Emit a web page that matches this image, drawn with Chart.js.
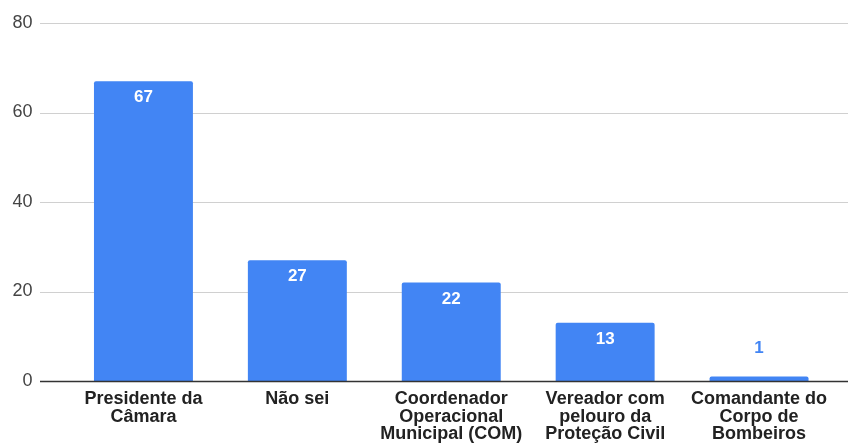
<!DOCTYPE html>
<html>
<head>
<meta charset="utf-8">
<script src="https://cdn.jsdelivr.net/npm/chart.js@4/dist/chart.umd.min.js"></script>
<style>
html,body{margin:0;padding:0;background:#fff;}
#wrap{width:848px;height:444px;position:relative;}
</style>
</head>
<body>
<div id="wrap"><canvas id="c" width="848" height="444"></canvas></div>
<script>
const categories = [
  ["Presidente da", "Câmara"],
  ["Não sei"],
  ["Coordenador", "Operacional", "Municipal (COM)"],
  ["Vereador com", "pelouro da", "Proteção Civil"],
  ["Comandante do", "Corpo de", "Bombeiros"]
];
const values = [67, 27, 22, 13, 1];
const yTicks = [0, 20, 40, 60, 80];

const BLUE = '#4285F4';
const FONT = "'Liberation Sans', Arial, sans-serif";

const gridPlugin = {
  id: 'extGrid',
  beforeDatasetsDraw(chart) {
    const ctx = chart.ctx, y = chart.scales.y;
    ctx.save();
    y.ticks.forEach(t => {
      if (t.value === 0) return;
      const py = Math.round(y.getPixelForValue(t.value)) + 0.5;
      ctx.strokeStyle = '#d0d0d0';
      ctx.lineWidth = 1;
      ctx.beginPath();
      ctx.moveTo(40, py);
      ctx.lineTo(chart.width, py);
      ctx.stroke();
    });
    ctx.restore();
  },
  afterDatasetsDraw(chart) {
    const ctx = chart.ctx, y = chart.scales.y;
    ctx.save();
    const py = y.getPixelForValue(0);
    ctx.strokeStyle = '#333333';
    ctx.lineWidth = 1.5;
    ctx.beginPath();
    ctx.moveTo(40, py + 0.5);
    ctx.lineTo(chart.width, py + 0.5);
    ctx.stroke();
    const meta = chart.getDatasetMeta(0);
    ctx.font = "bold 17px " + FONT;
    ctx.textAlign = 'center';
    ctx.textBaseline = 'middle';
    meta.data.forEach((bar, i) => {
      const v = chart.data.datasets[0].data[i];
      const h = bar.base - bar.y;
      if (h > 30) {
        ctx.fillStyle = '#ffffff';
        ctx.fillText(String(v), bar.x, bar.y + 16.5);
      } else {
        ctx.fillStyle = BLUE;
        ctx.fillText(String(v), bar.x, bar.y - 28);
      }
    });
    ctx.restore();
  }
};

const chart = new Chart(document.getElementById('c'), {
  type: 'bar',
  data: {
    labels: categories,
    datasets: [{
      data: values,
      backgroundColor: BLUE,
      borderRadius: {topLeft: 2, topRight: 2, bottomLeft: 0, bottomRight: 0},
      borderSkipped: 'bottom',
      categoryPercentage: 1,
      barPercentage: 0.643
    }]
  },
  options: {
    responsive: false,
    animation: false,
    events: [],
    layout: { padding: { top: 23, right: 12, left: 0, bottom: 0 } },
    plugins: { legend: { display: false }, tooltip: { enabled: false } },
    scales: {
      x: {
        grid: { display: false, drawTicks: false },
        border: { display: false },
        ticks: {
          color: '#222222',
          font: { family: FONT, size: 18, weight: 'bold', lineHeight: 0.97 },
          padding: 9.5,
          maxRotation: 0,
          autoSkip: false
        },
        afterFit(scale) { scale.height = 63; scale.paddingLeft = 0; scale.paddingRight = 0; }
      },
      y: {
        min: 0, max: 80,
        afterBuildTicks(scale) { scale.ticks = yTicks.map(v => ({ value: v })); },
        grid: { display: false, drawTicks: false },
        border: { display: false },
        ticks: {
          color: '#444444',
          font: { family: FONT, size: 18 },
          padding: 34
        },
        afterFit(scale) { scale.width = 66.5; scale.paddingTop = 0; scale.paddingBottom = 0; }
      }
    }
  },
  plugins: [gridPlugin]
});
</script>
</body>
</html>
